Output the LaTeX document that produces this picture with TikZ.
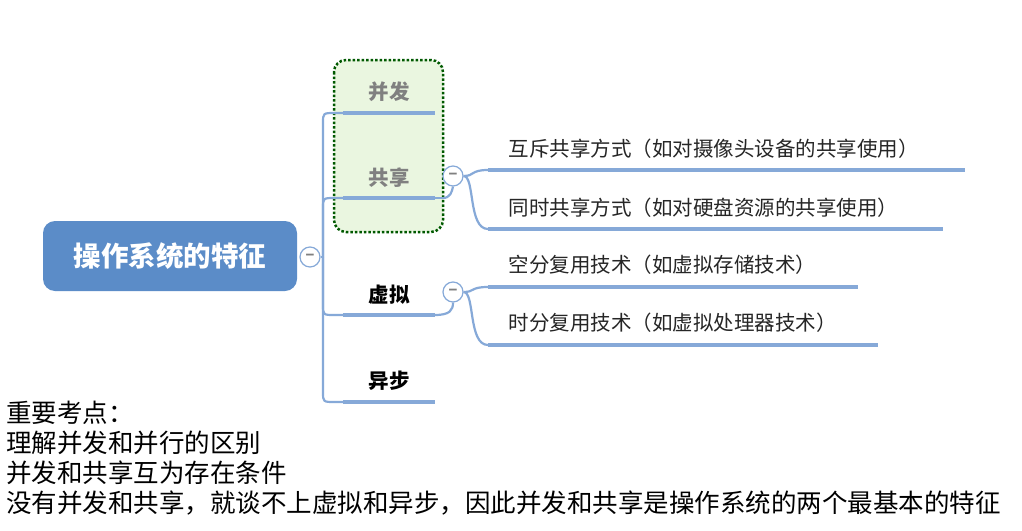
\documentclass[tikz,border=0pt]{standalone}
\usepackage{fontspec}
\setmainfont{Noto Sans CJK SC}
\begin{document}
\begin{tikzpicture}[x=1pt,y=-1pt,
  br/.style={draw=linkblue,line width=2.2pt},
  ul/.style={draw=linkblue,line width=4pt},
  tog/.style={circle,draw=linkblue,line width=1.2pt,fill=white,minimum size=20pt,inner sep=0pt,font=\bfseries\Large,text=gray},
  lbl/.style={anchor=west,font=\fontsize{20.5}{20.5}\selectfont,text=black!85},
  cat/.style={font=\fontsize{20.5}{20.5}\selectfont\bfseries}]
\definecolor{linkblue}{HTML}{86A9D8}
\definecolor{rootblue}{HTML}{5B8CC8}
\useasboundingbox (0,0) rectangle (1022,530);
\fill[white] (0,0) rectangle (1022,530);
% green box
\draw[draw=black!50!green!70!black,line width=2.5pt,dotted,fill=green!40!olive!12,rounded corners=12pt] (334,60) rectangle (443,232);
% root
\node[fill=rootblue,rounded corners=12pt,minimum width=254pt,minimum height=70pt,text=white,font=\fontsize{27.5}{27.5}\selectfont\bfseries] (root) at (170,256) {操作系统的特征};
\node[tog] (t0) at (310,257) {−};
% trunk
\coordinate (j) at (323,257);
\draw[br] (t0.east) -- (j);
\draw[br] (j) -- (323,123) .. controls (323,113) .. (335,113) -- (343,113);
\draw[br] (j) -- (323,208) .. controls (323,198) .. (335,198) -- (343,198);
\draw[br] (j) -- (323,305) .. controls (323,315) .. (335,315) -- (343,315);
\draw[br] (j) -- (323,392) .. controls (323,402) .. (335,402) -- (343,402);
\draw[ul] (343,113) -- (435,113);
\draw[ul] (343,198) -- (435,198);
\draw[ul] (343,315) -- (435,315);
\draw[ul] (343,402) -- (435,402);
\node[cat,text=gray] (a) at (389,92) {并发};
\node[cat,text=gray] (b) at (389,178) {共享};
\node[cat] (c) at (389,295) {虚拟};
\node[cat] (d) at (389,381) {异步};
% share children
\draw[br] (435,198) -- (443,198);
\node[tog] (t1) at (453,176) {−};
\draw[br] (443,198) .. controls (450,198) and (452,192) .. (t1.south);
\draw[br] (t1.east) .. controls (475,176) and (470,170) .. (488,170);
\draw[br] (t1.east) .. controls (475,176) and (468,229) .. (488,229);
\draw[ul] (488,170) -- (965,170);
\draw[ul] (488,229) -- (943,229);
\node[lbl] (s1) at (505,149) {互斥共享方式（如对摄像头设备的共享使用）};
\node[lbl] (s2) at (505,208) {同时共享方式（如对硬盘资源的共享使用）};
% virtual children
\node[tog] (t2) at (453,292) {−};
\draw[br] (435,315) .. controls (450,315) and (453,310) .. (t2.south);
\draw[br] (t2.east) .. controls (475,292) and (470,287) .. (488,287);
\draw[br] (t2.east) .. controls (475,292) and (468,345) .. (488,345);
\draw[ul] (488,287) -- (858,287);
\draw[ul] (488,345) -- (878,345);
\node[lbl] (v1) at (505,265) {空分复用技术（如虚拟存储技术）};
\node[lbl] (v2) at (505,323) {时分复用技术（如虚拟处理器技术）};
% notes
\begin{scope}[every node/.style={anchor=west,font=\fontsize{25.5}{25.5}\selectfont,inner sep=0pt}]
\node (n1) at (6,413) {重要考点：};
\node (n2) at (6,443) {理解并发和并行的区别};
\node (n3) at (6,473) {并发和共享互为存在条件};
\node (n4) at (6,503) {没有并发和共享，就谈不上虚拟和异步，因此并发和共享是操作系统的两个最基本的特征};
\end{scope}
\end{tikzpicture}
\end{document}
